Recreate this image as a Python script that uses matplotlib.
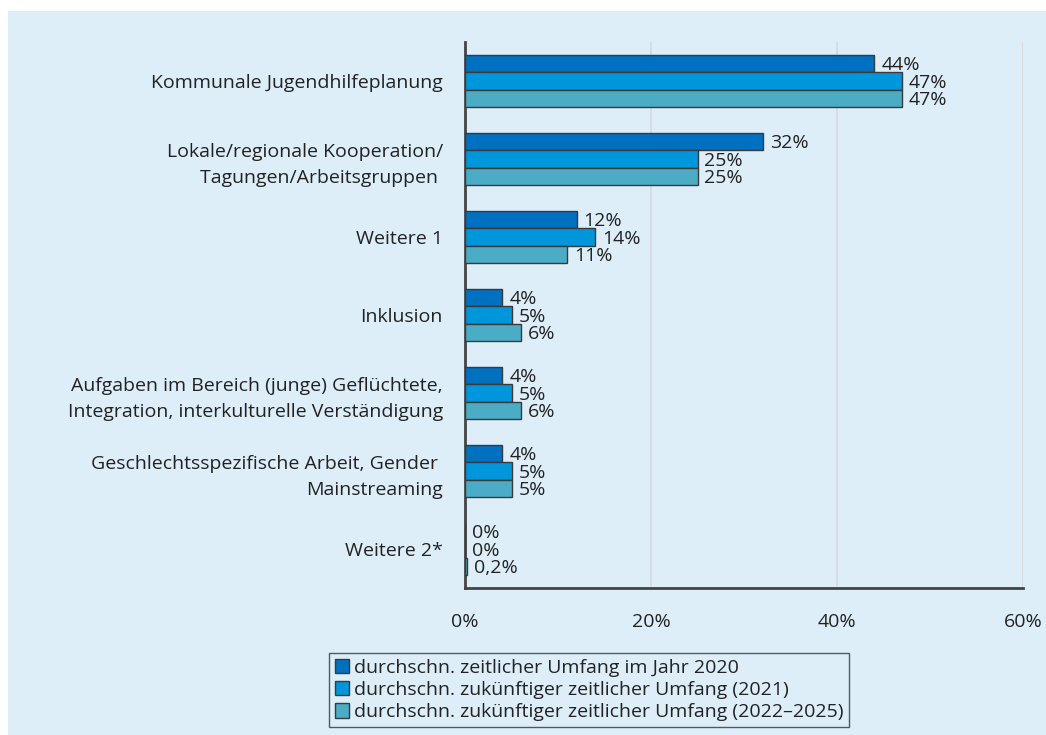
import matplotlib
matplotlib.use("Agg")
import matplotlib.pyplot as plt
from matplotlib.patches import Rectangle
import numpy as np

categories = [
    "Kommunale Jugendhilfeplanung",
    "Lokale/regionale Kooperation/\nTagungen/Arbeitsgruppen ",
    "Weitere 1",
    "Inklusion",
    "Aufgaben im Bereich (junge) Geflüchtete,\nIntegration, interkulturelle Verständigung",
    "Geschlechtsspezifische Arbeit, Gender \nMainstreaming",
    "Weitere 2*",
]
series_names = [
    "durchschn. zeitlicher Umfang im Jahr 2020",
    "durchschn. zukünftiger zeitlicher Umfang (2021)",
    "durchschn. zukünftiger zeitlicher Umfang (2022\u20132025)",
]
v2020 = [44, 32, 12, 4, 4, 4, 0]
v2021 = [47, 25, 14, 5, 5, 5, 0]
v2025 = [47, 25, 11, 6, 6, 5, 0.2]
value_labels = [
    ["44%", "32%", "12%", "4%", "4%", "4%", "0%"],
    ["47%", "25%", "14%", "5%", "5%", "5%", "0%"],
    ["47%", "25%", "11%", "6%", "6%", "5%", "0,2%"],
]
xticks = [0, 20, 40, 60]
xtick_labels = ["0%", "20%", "40%", "60%"]

colors = ["#0070C0", "#0096DB", "#4BACC6"]
bg = "#DDEEF9"
edge = "#3A3A3A"

plt.rcParams["font.family"] = ["Open Sans", "DejaVu Sans"]
fs = 14

fig = plt.figure(figsize=(10.46, 7.35), dpi=100)
fig.patch.set_facecolor("white")
fig.patches.append(Rectangle((8 / 1046, 0), 1 - 8 / 1046, 1 - 11 / 735,
                             transform=fig.transFigure, facecolor=bg,
                             edgecolor="none", zorder=-10))

ax = fig.add_axes([465 / 1046, 1 - 588 / 735, (1023 - 465) / 1046, (588 - 42) / 735])
ax.set_facecolor(bg)
ax.patch.set_alpha(0)

y = np.arange(len(categories))
h = 0.22
series = [v2020, v2021, v2025]
for i, (vals, c, name) in enumerate(zip(series, colors, series_names)):
    pos = y + (i - 1) * h
    ax.barh(pos, vals, height=h, color=c, edgecolor=edge, linewidth=1.0,
            label=name, zorder=3)
    for p, v, lab in zip(pos, vals, value_labels[i]):
        ax.text(v + 0.75, p + 0.02, lab, va="center", ha="left", fontsize=fs,
                color="#222222", zorder=4)

ax.set_xlim(0, 60)
ax.set_ylim(len(categories) - 0.5, -0.5)
ax.set_xticks(xticks)
ax.set_xticklabels(xtick_labels, fontsize=fs, color="#222222")
ax.set_yticks(y)
ax.set_yticklabels(categories, fontsize=fs, color="#222222",
                   multialignment="right", linespacing=1.6)
ax.tick_params(axis="both", length=0)
ax.tick_params(axis="x", pad=18)
ax.tick_params(axis="y", pad=16)
ax.xaxis.grid(True, color="#D9D9D9", linewidth=1.2, zorder=0)
ax.set_axisbelow(True)
for s in ["top", "right"]:
    ax.spines[s].set_visible(False)
for s in ["left", "bottom"]:
    ax.spines[s].set_color("#444444")
    ax.spines[s].set_linewidth(2)

leg = fig.legend(loc="center", bbox_to_anchor=(589 / 1046, 1 - 690 / 735),
                 ncol=1, fontsize=fs, frameon=True, fancybox=False,
                 handlelength=0.75, handleheight=0.75, handletextpad=0.25,
                 labelspacing=0.22, borderpad=0.3)
leg.get_frame().set_facecolor(bg)
leg.get_frame().set_edgecolor("#333333")
leg.get_frame().set_linewidth(1.0)
for t in leg.get_texts():
    t.set_color("#222222")

fig.savefig("out.png", dpi=100, facecolor=fig.get_facecolor())
